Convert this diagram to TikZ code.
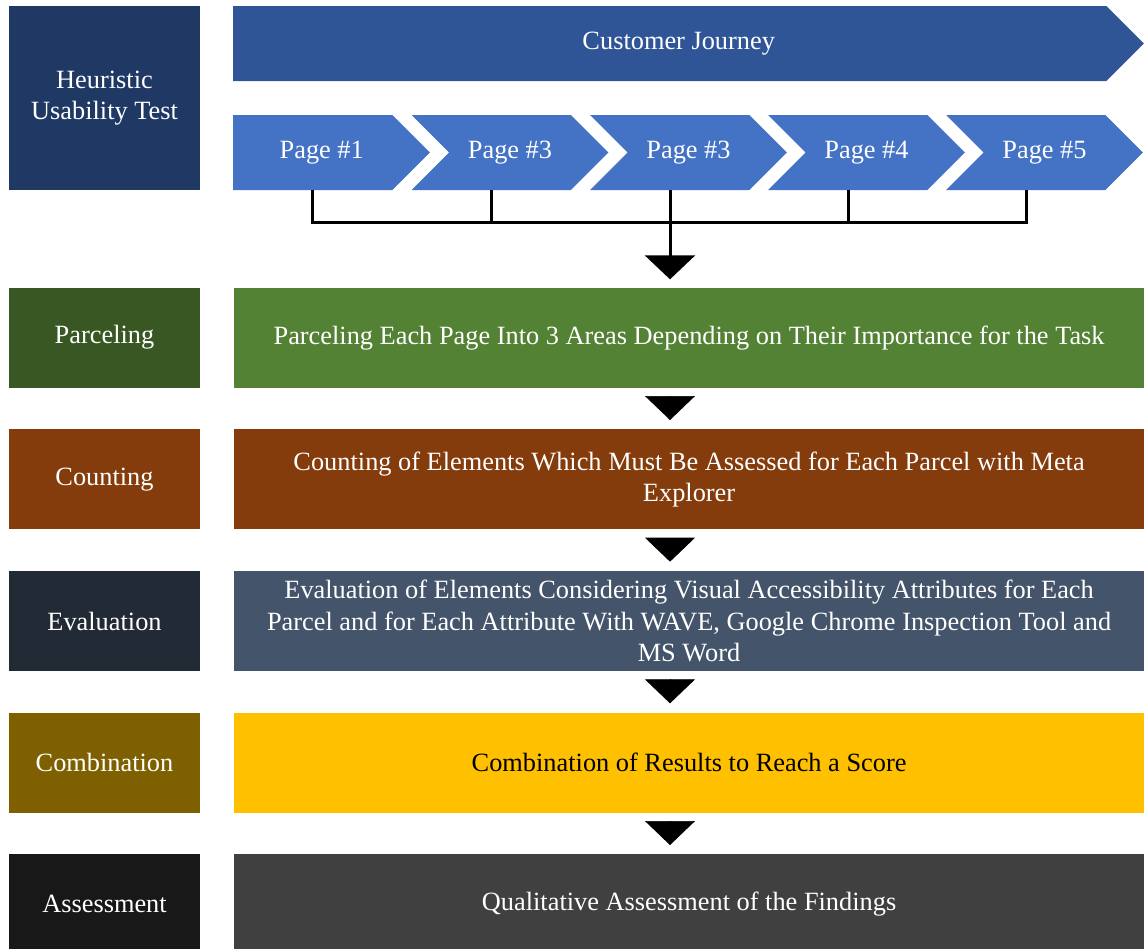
\documentclass[tikz,border=0pt]{standalone}
\usepackage{fontspec}
\setmainfont{Liberation Serif}
\usetikzlibrary{positioning, shapes.symbols, arrows.meta}
\definecolor{heurblue}{HTML}{1F3864}
\definecolor{journeyblue}{HTML}{2F5597}
\definecolor{pageblue}{HTML}{4472C4}
\definecolor{parceldark}{HTML}{385723}
\definecolor{parcellight}{HTML}{548235}
\definecolor{countbrown}{HTML}{843C0C}
\definecolor{evaldark}{HTML}{222A35}
\definecolor{evallight}{HTML}{44546A}
\definecolor{combdark}{HTML}{7F6000}
\definecolor{comblight}{HTML}{FFC000}
\definecolor{assessdark}{HTML}{181818}
\definecolor{assesslight}{HTML}{404040}
\tikzset{
    stagebox/.style={rectangle, minimum width=3.82cm, minimum height=2cm, inner sep=0pt, text=white, align=center, font=\fontsize{15}{18}\selectfont},
    taskbox/.style={rectangle, minimum width=18.22cm, minimum height=2cm, inner sep=0pt, text=white, align=center, font=\fontsize{15}{18}\selectfont},
    journey/.style={signal, signal to=east, signal pointer angle=90, fill=journeyblue, minimum width=18.22cm, minimum height=1.5cm, inner sep=0pt, text=white, font=\fontsize{15}{18}\selectfont},
    pagebox/.style={signal, signal to=east, signal from=west, signal pointer angle=90, fill=pageblue, minimum width=3.94cm, minimum height=1.5cm, inner sep=0pt, text=white, font=\fontsize{15}{18}\selectfont},
    bracket/.style={line width=1.7pt},
    flow/.style={line width=1.7pt, -{Triangle[length=0.48cm, width=1cm]}},
}
\begin{document}
\begin{tikzpicture}[x=0.02cm, y=-0.02cm]
    \useasboundingbox (0,0) rectangle (1144,948);
    \node [stagebox, fill=heurblue, minimum height=3.68cm] (heur) at (104.5,98) {Heuristic\\Usability Test};
    \node [journey] (journey) at (669.75,43.5) {\hspace{0.36cm}Customer Journey};
    \node [pagebox, signal from=nowhere] (p1) at (312.75,152.5) {\hspace{0.36cm}Page \#1};
    \node [pagebox] (p2) at (510,152.5) {Page \#3};
    \node [pagebox] (p3) at (688.5,152.5) {Page \#3};
    \node [pagebox] (p4) at (866.5,152.5) {Page \#4};
    \node [pagebox] (p5) at (1044.5,152.5) {Page \#5};
    \node [stagebox, fill=parceldark] (parcel) [below = 1.94cm of heur] {Parceling};
    \node [taskbox, fill=parcellight] (parcelT) [right = 0.66cm of parcel] {Parceling Each Page Into 3 Areas Depending on Their Importance for the Task};
    \node [stagebox, fill=countbrown] (count) [below = 0.82cm of parcel] {Counting};
    \node [taskbox, fill=countbrown] (countT) [right = 0.66cm of count] {Counting of Elements Which Must Be Assessed for Each Parcel with Meta\\Explorer};
    \node [stagebox, fill=evaldark] (eval) [below = 0.82cm of count] {Evaluation};
    \node [taskbox, fill=evallight] (evalT) [right = 0.66cm of eval] {Evaluation of Elements Considering Visual Accessibility Attributes for Each\\Parcel and for Each Attribute With WAVE, Google Chrome Inspection Tool and\\MS Word};
    \node [stagebox, fill=combdark] (comb) [below = 0.82cm of eval] {Combination};
    \node [taskbox, fill=comblight, text=black] (combT) [right = 0.66cm of comb] {Combination of Results to Reach a Score};
    \node [stagebox, fill=assessdark] (assess) [below = 0.82cm of comb] {Assessment};
    \node [taskbox, fill=assesslight] (assessT) [right = 0.66cm of assess] {Qualitative Assessment of the Findings};
    \coordinate (stem) at ([xshift=-0.37cm]p3.south);
    \draw[bracket] (p1.south) -- ++(0,32) -| ([xshift=-0.37cm]p5.south);
    \foreach \p in {p2,p3,p4}
        \draw[bracket] ([xshift=-0.37cm]\p.south) -- ++(0,32);
    \draw[flow, shorten >=0.16cm] (stem) -- (stem |- parcelT.north);
    \foreach \a/\b in {parcelT/countT, countT/evalT, evalT/combT, combT/assessT}
        \draw[flow, line width=0.4pt, shorten <=0.16cm, shorten >=0.18cm] (stem |- \a.south) -- (stem |- \b.north);
\end{tikzpicture}
\end{document}
